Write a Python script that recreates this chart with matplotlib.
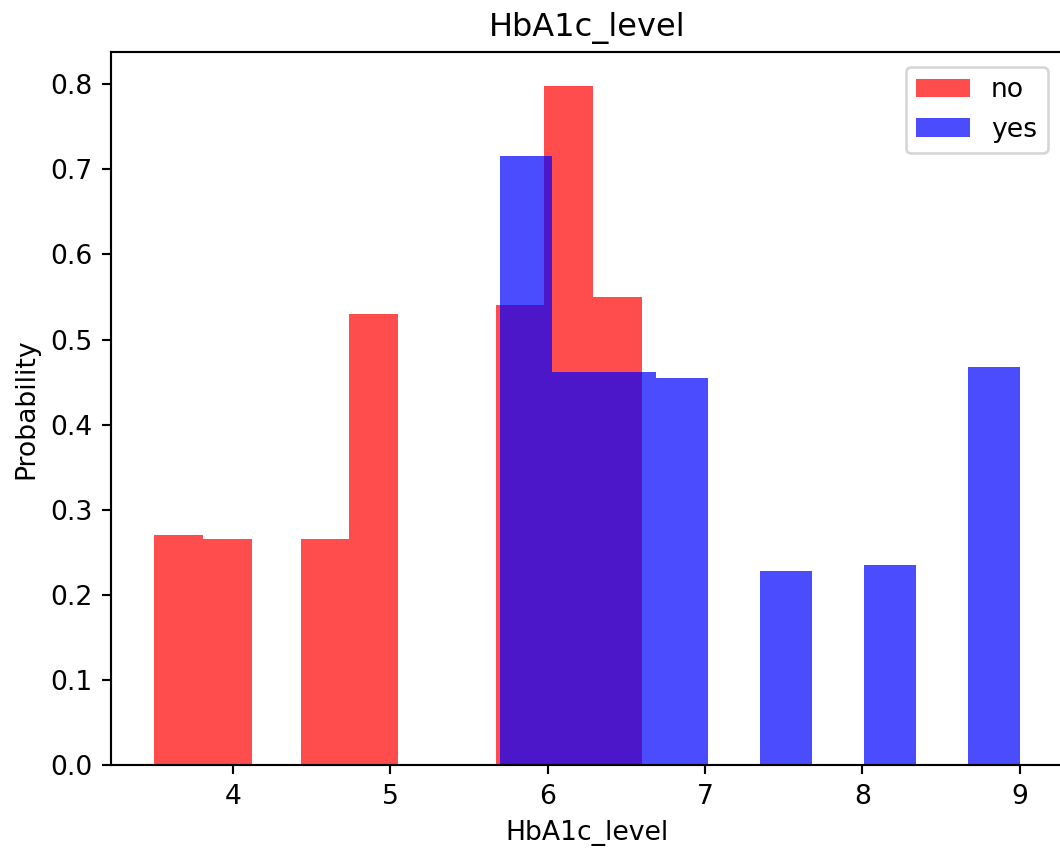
import numpy as np
import matplotlib.pyplot as plt

# density histograms of HbA1c_level (10 bins each)
no_range = (3.5, 6.6)
no_heights = [0.270, 0.266, 0.0, 0.266, 0.530, 0.0, 0.0, 0.541, 0.798, 0.550]

yes_range = (5.7, 9.0)
yes_heights = [0.716, 0.462, 0.462, 0.455, 0.0, 0.228, 0.0, 0.235, 0.0, 0.468]

fig = plt.figure(figsize=(1060 / 192, 856 / 192), dpi=192)
ax = fig.add_axes([0.1047, 0.1063, 0.8981, 0.8330])

for rng, h, col, lab in [(no_range, no_heights, 'red', 'no'),
                         (yes_range, yes_heights, 'blue', 'yes')]:
    edges = np.linspace(rng[0], rng[1], len(h) + 1)
    centers = (edges[:-1] + edges[1:]) / 2
    ax.hist(centers, bins=edges, weights=h, color=col, alpha=0.7, label=lab)

ax.set_xlim(3.225, 9.275)
ax.set_title("HbA1c_level")
ax.set_xlabel("HbA1c_level")
ax.set_ylabel("Probability")
ax.spines['right'].set_visible(False)  # cropped off in the original
ax.legend(loc='upper right', bbox_to_anchor=(0.998, 0.998))

fig.savefig("out.png", dpi=192)
